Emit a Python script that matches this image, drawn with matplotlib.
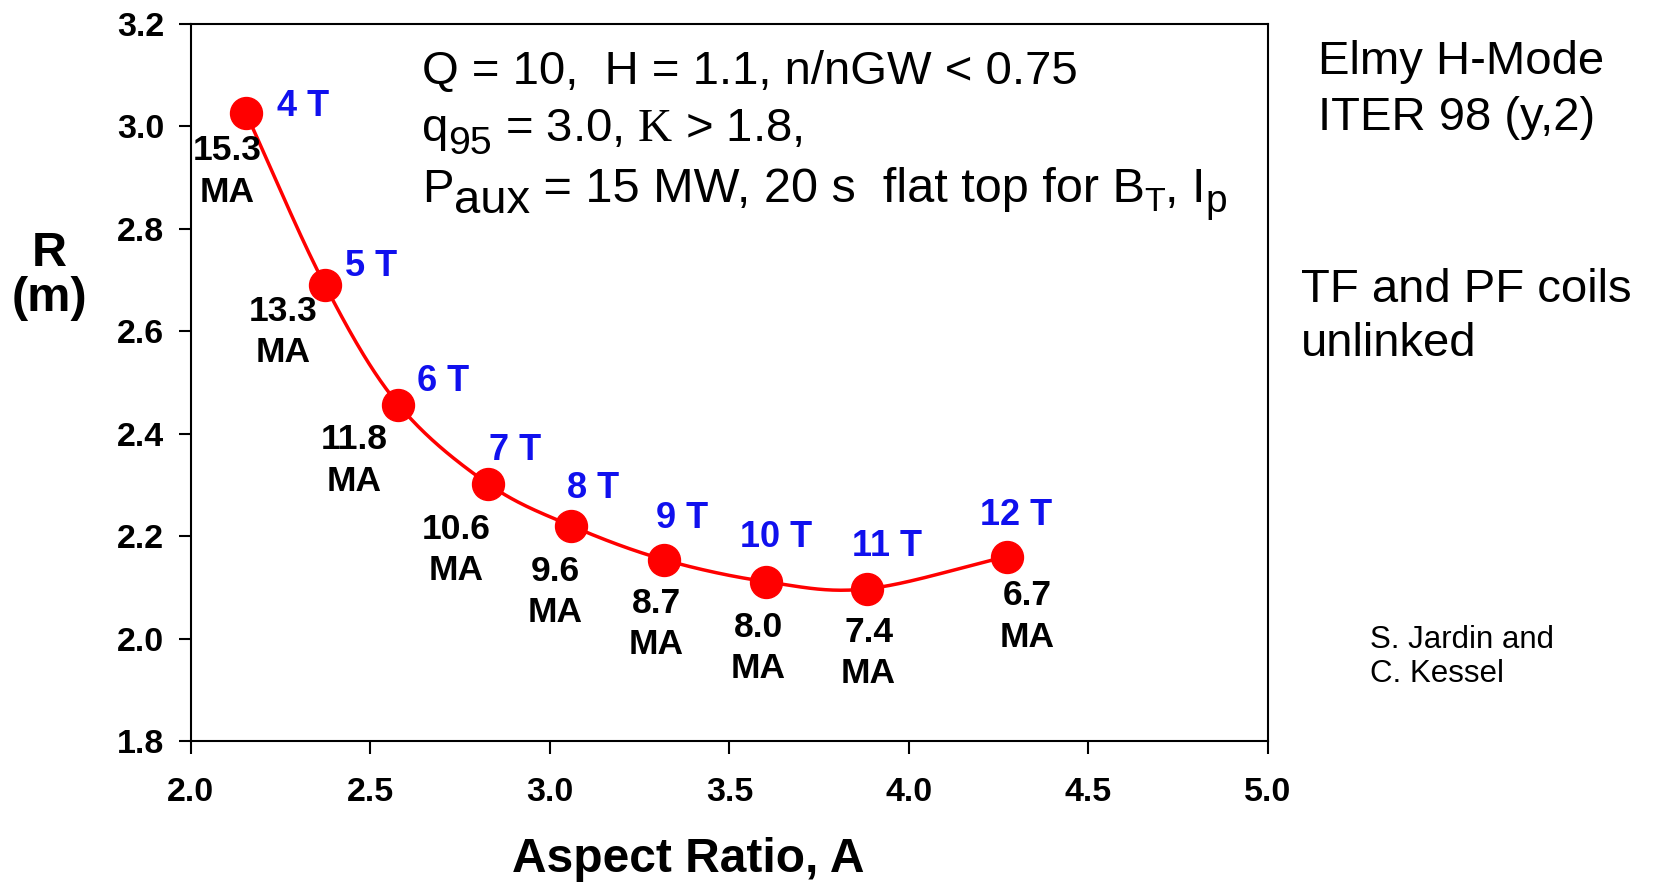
import numpy as np
import matplotlib
matplotlib.use("Agg")
import matplotlib.pyplot as plt

plt.rcParams['font.family'] = ['Liberation Sans', 'DejaVu Sans']
plt.rcParams['mathtext.fontset'] = 'custom'
plt.rcParams['mathtext.rm'] = 'Liberation Sans'
plt.rcParams['mathtext.it'] = 'Liberation Sans:italic'
plt.rcParams['mathtext.cal'] = 'Liberation Serif'

# data
aspect = [2.153, 2.373, 2.578, 2.828, 3.060, 3.318, 3.603, 3.882, 4.272]
radius = [3.027, 2.691, 2.457, 2.302, 2.220, 2.154, 2.111, 2.097, 2.160]
field_labels = ['4 T', '5 T', '6 T', '7 T', '8 T', '9 T', '10 T', '11 T', '12 T']
current_labels = ['15.3', '13.3', '11.8', '10.6', '9.6', '8.7', '8.0', '7.4', '6.7']

# label offsets in pixels (dx right, dy down)
field_off = [(57, -6), (46, -18), (45, -23), (27, -33), (22, -37), (18, -41), (10, -44), (20, -42), (9, -41)]
current_off = [(-19, 59), (-42, 47), (-44, 56), (-32, 66), (-16, 66), (-8, 64), (-8, 66), (2, 64), (21, 60)]


def smooth(x, y, n=40):
    # Catmull-Rom curve through the points (like a smoothed line)
    x = np.asarray(x, float)
    y = np.asarray(y, float)
    px = np.concatenate([[2 * x[0] - x[1]], x, [2 * x[-1] - x[-2]]])
    py = np.concatenate([[2 * y[0] - y[1]], y, [2 * y[-1] - y[-2]]])
    t = np.linspace(0, 1, n)
    xs, ys = [], []
    for i in range(1, len(px) - 2):
        for p, out in ((px, xs), (py, ys)):
            p0, p1, p2, p3 = p[i - 1], p[i], p[i + 1], p[i + 2]
            out.extend(0.5 * ((2 * p1) + (-p0 + p2) * t + (2 * p0 - 5 * p1 + 4 * p2 - p3) * t ** 2
                              + (-p0 + 3 * p1 - 3 * p2 + p3) * t ** 3))
    return np.array(xs), np.array(ys)


W, H = 1653, 883
fig = plt.figure(figsize=(W / 100, H / 100), dpi=100)
renderer = fig.canvas.get_renderer()


def rich_line(x, y, pieces, size):
    # pieces: (text, size factor, drop in px); x, y in pixels from top-left, y = baseline
    for s, f, drop in pieces:
        t = fig.text(x, H - y - drop, s, fontsize=size * f, va='baseline', transform=None)
        x = t.get_window_extent(renderer).x1


ax = fig.add_axes([190.8 / W, 1 - 741 / H, (1268 - 190.8) / W, (741 - 24) / H])

sx, sy = smooth(aspect, radius)
ax.plot(sx, sy, color='red', lw=2.5, zorder=2)
ax.plot(aspect, radius, 'o', color='red', ms=23, zorder=3, clip_on=False)

for xv, yv, lab, (dx, dy) in zip(aspect, radius, field_labels, field_off):
    ax.annotate(lab, (xv, yv), xytext=(dx, -dy), textcoords='offset pixels',
                ha='center', va='center', color='#1010ee', fontsize=26, fontweight='bold')
for xv, yv, lab, (dx, dy) in zip(aspect, radius, current_labels, current_off):
    ax.annotate(lab + '\nMA', (xv, yv), xytext=(dx, -dy), textcoords='offset pixels',
                ha='center', va='center', color='black', fontsize=25.5, fontweight='bold',
                linespacing=1.32)

ax.set_xlim(2.0, 5.0)
ax.set_ylim(1.8, 3.2)
ax.set_xticks(np.arange(2.0, 5.01, 0.5))
ax.set_yticks(np.arange(1.8, 3.21, 0.2))
ax.xaxis.set_major_formatter(matplotlib.ticker.FormatStrFormatter('%.1f'))
ax.yaxis.set_major_formatter(matplotlib.ticker.FormatStrFormatter('%.1f'))
ax.tick_params(direction='out', length=9, width=1.5, labelsize=24.5, top=False, right=False)
ax.tick_params(axis='x', pad=17)
ax.tick_params(axis='y', pad=10)
for lbl in ax.get_xticklabels() + ax.get_yticklabels():
    lbl.set_fontweight('bold')
for sp in ax.spines.values():
    sp.set_linewidth(1.5)

# axis titles
fig.text(688 / W, 1 - 859 / H, 'Aspect Ratio, A', ha='center', va='center',
         fontsize=34.5, fontweight='bold')
fig.text(49 / W, 1 - 276 / H, 'R\n(m)', ha='center', va='center',
         fontsize=35, fontweight='bold', linespacing=1.0)

# header text
rich_line(422, 84, [('Q = 10,  H = 1.1, n/nGW < 0.75', 1, 0)], 34)
rich_line(422, 141, [('q', 1, 0), ('95', 0.83, 13), (r' = 3.0, $\mathcal{K}$ > 1.8,', 1, 0)], 34)
rich_line(422, 202, [('P', 1, 0), ('aux', 1.0, 11), (' = 15 MW, 20 s  flat top for B', 1.03, 0),
                     ('T', 0.72, 9), (', I', 1.03, 0), ('p', 0.82, 10)], 34)

fig.text(1318 / W, 1 - 74 / H, 'Elmy H-Mode', fontsize=34, va='baseline')
fig.text(1318 / W, 1 - 130 / H, 'ITER 98 (y,2)', fontsize=34, va='baseline')
fig.text(1301 / W, 1 - 302 / H, 'TF and PF coils', fontsize=34, va='baseline')
fig.text(1301 / W, 1 - 356 / H, 'unlinked', fontsize=34, va='baseline')
fig.text(1370 / W, 1 - 648 / H, 'S. Jardin and', fontsize=22.5, va='baseline')
fig.text(1370 / W, 1 - 682 / H, 'C. Kessel', fontsize=22.5, va='baseline')

fig.savefig('out.png', dpi=100)
